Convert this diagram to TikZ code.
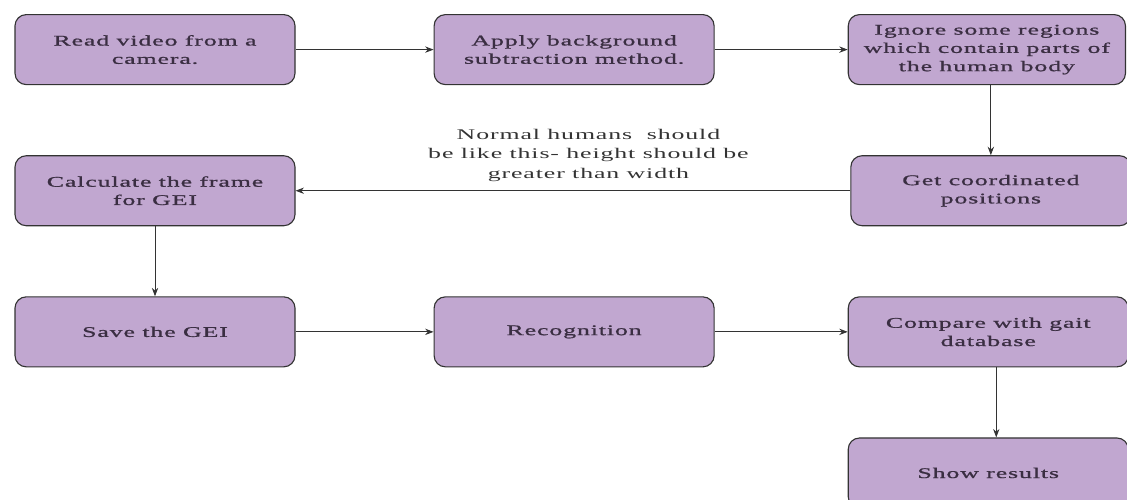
\documentclass[tikz,border=0pt]{standalone}
\usepackage{fontspec}
\setmainfont{Liberation Serif}[FakeStretch=1.75,LetterSpace=6]
\newfontfamily\boxfont{Liberation Serif}[FakeStretch=1.75,LetterSpace=6,FakeBold=1]
\usetikzlibrary{positioning,arrows.meta}
\definecolor{boxfill}{RGB}{193,167,208}
\definecolor{boxtext}{RGB}{58,46,66}

\begin{document}
\begin{tikzpicture}[main/.style = {draw=black!80, fill=boxfill, rounded corners=8pt, minimum width=7cm, minimum height=1.75cm, align=center, text=boxtext, font=\boxfont\fontsize{10.5}{13}\selectfont, line width=0.8pt},
  flow/.style = {-{Stealth[length=6pt,width=4.5pt]}, draw=black!80, line width=0.6pt},
  node distance={1.75cm and 3.45cm}]
\useasboundingbox (0,0) rectangle (28.175,-12.5);
\node[main] (read) at (3.875,-1.24) {Read video from a\\camera.};
\node[main] (bgsub) [right=of read] {Apply background\\subtraction method.};
\node[main] (ignore) [right=3.325cm of bgsub, minimum width=6.93cm] {Ignore some regions\\which contain parts of\\the human body};
\node[main] (coord) [below=of ignore, xshift=0.1cm] {Get coordinated\\positions};
\node[main] (frame) [below=of read] {Calculate the frame\\for GEI};
\node[main] (gei) [below=of frame] {Save the GEI};
\node[main] (recog) [right=of gei] {Recognition};
\node[main] (compare) [right=3.325cm of recog] {Compare with gait\\database};
\node[main] (show) [below=of compare] {Show results};
\draw[flow] (read) -- (bgsub);
\draw[flow] (bgsub) -- (ignore);
\draw[flow] (coord.north |- ignore.south) -- (coord);
\draw[flow] (coord) -- node[pos=0.472, above, yshift=0.1cm, align=center, text=black!80, font=\fontsize{10.5}{14}\selectfont] (note) {Normal humans\ \ should\\be like this- height should be\\greater than width} (frame);
\draw[flow] (frame) -- (gei);
\draw[flow] (gei) -- (recog);
\draw[flow] (recog) -- (compare);
\draw[flow] ([xshift=0.2cm]compare.south) -- ([xshift=0.2cm]show.north);
\end{tikzpicture}
\end{document}
